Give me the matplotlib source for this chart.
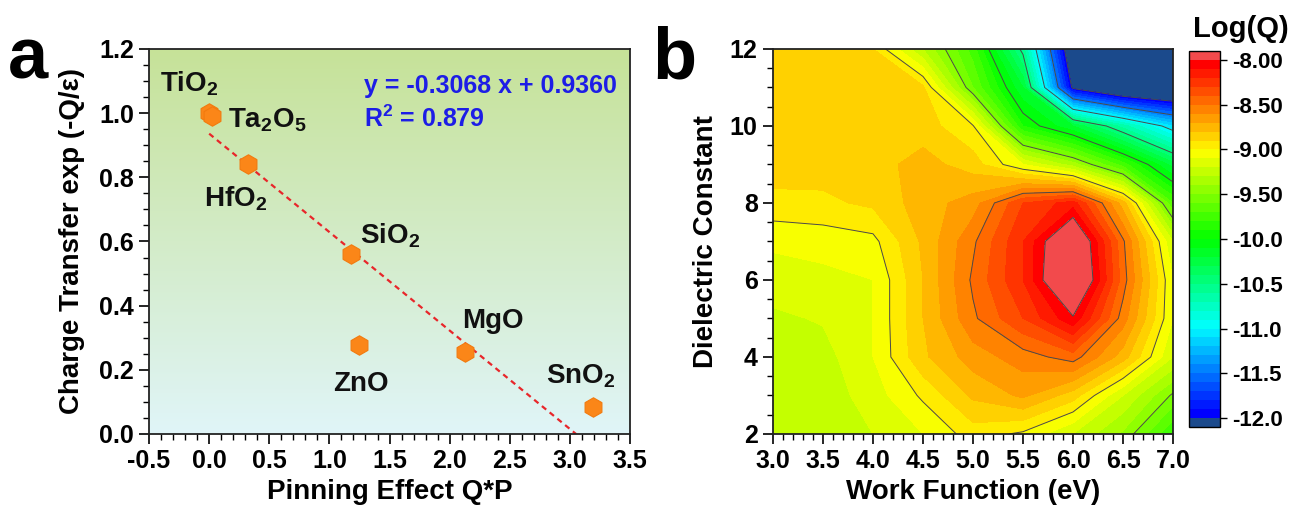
import numpy as np
import matplotlib.pyplot as plt
import matplotlib.colors as mcolors
from matplotlib.ticker import MultipleLocator, FormatStrFormatter

plt.rcParams['font.family'] = ['Liberation Sans', 'DejaVu Sans']
plt.rcParams['font.weight'] = 'bold'
plt.rcParams['axes.labelweight'] = 'bold'
plt.rcParams['mathtext.fontset'] = 'custom'
plt.rcParams['mathtext.rm'] = 'Liberation Sans:bold'
plt.rcParams['mathtext.it'] = 'Liberation Sans:bold'
plt.rcParams['mathtext.bf'] = 'Liberation Sans:bold'
plt.rcParams['mathtext.default'] = 'rm'

# ---- panel a: charge transfer vs pinning effect ----
oxide_labels = [r'TiO$_2$', r'Ta$_2$O$_5$', r'HfO$_2$', r'SiO$_2$', 'ZnO', 'MgO', r'SnO$_2$']
pinning = [0.0, 0.02, 0.32, 1.18, 1.25, 2.13, 3.19]
transfer = [1.00, 0.99, 0.84, 0.561, 0.276, 0.255, 0.083]
fit_slope = -0.3068
fit_intercept = 0.9360
fit_r2 = 0.879

# where each oxide name sits (data coords, left/baseline)
label_pos = [(-0.41, 1.068), (0.16, 0.954), (-0.04, 0.71), (1.255, 0.595),
             (1.03, 0.133), (2.10, 0.33), (2.80, 0.156)]

# ---- panel b: Log(Q) map ----
work_function = [3.0, 3.5, 4.0, 4.5, 5.0, 5.5, 6.0, 6.5, 7.0]
dielectric = [2, 3, 4, 5, 6, 7, 8, 9, 10, 11, 12]
log_q = [
    [-9.28, -9.27, -9.20, -9.10, -8.95, -9.02, -9.20, -9.42, -9.80],
    [-9.28, -9.26, -9.15, -8.98, -8.78, -8.68, -8.85, -9.20, -9.52],
    [-9.27, -9.24, -9.10, -8.82, -8.65, -8.55, -8.45, -8.75, -9.20],
    [-9.22, -9.19, -9.10, -8.80, -8.52, -8.30, -8.02, -8.55, -9.10],
    [-9.15, -9.13, -9.10, -8.80, -8.48, -8.20, -7.70, -8.45, -9.10],
    [-9.08, -9.06, -9.03, -8.78, -8.52, -8.20, -7.75, -8.48, -9.20],
    [-8.93, -8.92, -8.88, -8.75, -8.65, -8.30, -8.15, -8.75, -9.70],
    [-8.85, -8.86, -8.84, -8.76, -8.85, -9.10, -9.35, -9.75, -10.25],
    [-8.83, -8.83, -8.83, -8.85, -8.99, -9.90, -10.20, -10.65, -11.10],
    [-8.83, -8.83, -8.85, -8.88, -9.60, -10.20, -12.05, -12.40, -12.50],
    [-8.83, -8.83, -8.90, -9.30, -9.75, -10.55, -12.30, -12.50, -12.60],
]
cbar_ticks = [-8.0, -8.5, -9.0, -9.5, -10.0, -10.5, -11.0, -11.5, -12.0]
cbar_labels = ['-8.00', '-8.50', '-9.00', '-9.50', '-10.0', '-10.5', '-11.0', '-11.5', '-12.0']

fig = plt.figure(figsize=(12.95, 5.08), dpi=100)
ax1 = fig.add_axes([0.1151, 0.1457, 0.3714, 0.7579])
ax2 = fig.add_axes([0.5969, 0.1457, 0.3089, 0.7579])
cax = fig.add_axes([0.9181, 0.1594, 0.0239, 0.7402])

# gradient background for panel a
bg = mcolors.LinearSegmentedColormap.from_list('bg', ['#c6e298', '#e0f5f8'])
ax1.imshow(np.linspace(0, 1, 256)[:, None], cmap=bg, extent=[-0.5, 3.5, 0, 1.2],
           aspect='auto', origin='upper', zorder=0)

fit_x = np.array([0.0, -fit_intercept / fit_slope])
ax1.plot(fit_x, fit_slope * fit_x + fit_intercept, color='#e8262a', lw=1.6,
         ls=(0, (2.5, 2)), zorder=2)
ax1.plot(pinning, transfer, 'h', color='#fb8618', markersize=14, mec='#f27a0e',
         mew=0.8, zorder=3)

for txt, (lx, ly) in zip(oxide_labels, label_pos):
    ax1.text(lx, ly, txt, fontsize=20, ha='left', va='baseline', color='#111111')

ax1.text(1.29, 1.063, 'y = %.4f x + %.4f' % (fit_slope, fit_intercept),
         fontsize=18, color='#1d1de6', ha='left', va='baseline')
ax1.text(1.29, 0.957, r'R$^2$ = %.3f' % fit_r2, fontsize=18, color='#1d1de6',
         ha='left', va='baseline')

ax1.set_xlim(-0.5, 3.5)
ax1.set_ylim(0, 1.2)
ax1.xaxis.set_major_locator(MultipleLocator(0.5))
ax1.xaxis.set_minor_locator(MultipleLocator(0.1))
ax1.yaxis.set_major_locator(MultipleLocator(0.2))
ax1.yaxis.set_minor_locator(MultipleLocator(0.05))
ax1.xaxis.set_major_formatter(FormatStrFormatter('%.1f'))
ax1.yaxis.set_major_formatter(FormatStrFormatter('%.1f'))
ax1.set_xlabel('Pinning Effect Q*P', fontsize=20, labelpad=4)
ax1.set_ylabel('Charge Transfer exp (-Q/ε)', fontsize=20, labelpad=10)

# contour map
levels = [-13.5] + list(np.round(np.linspace(-12.0, -8.0, 41), 2)) + [-7.0]
band_colors = ['#1b4a8c']
for i in range(40):
    hue = (240.0 * (1 - i / 39.0)) / 360.0
    band_colors.append(mcolors.hsv_to_rgb([hue, 1.0, 1.0]))
band_colors.append('#f24a4c')

X, Y = np.meshgrid(work_function, dielectric)
Z = np.array(log_q)
cf = ax2.contourf(X, Y, Z, levels=levels, colors=band_colors)
ax2.contour(X, Y, Z, levels=np.linspace(-12.0, -8.0, 9), colors='#4a4a4a',
            linewidths=0.7, linestyles='solid')

ax2.set_xlim(3.0, 7.0)
ax2.set_ylim(2, 12)
ax2.xaxis.set_major_locator(MultipleLocator(0.5))
ax2.xaxis.set_minor_locator(MultipleLocator(0.1))
ax2.yaxis.set_major_locator(MultipleLocator(2))
ax2.yaxis.set_minor_locator(MultipleLocator(0.5))
ax2.xaxis.set_major_formatter(FormatStrFormatter('%.1f'))
ax2.set_xlabel('Work Function (eV)', fontsize=20, labelpad=4)
ax2.set_ylabel('Dielectric Constant', fontsize=20, labelpad=8)

for ax in (ax1, ax2):
    ax.tick_params(which='major', direction='out', length=7, width=1.2,
                   labelsize=18, pad=4)
    ax.tick_params(which='minor', direction='out', length=4, width=1.0)
    for sp in ax.spines.values():
        sp.set_linewidth(1.3)
        sp.set_color('#222222')

cb = fig.colorbar(cf, cax=cax, spacing='uniform', ticks=cbar_ticks)
cb.ax.set_yticklabels(cbar_labels)
cb.ax.minorticks_off()
cb.ax.tick_params(direction='out', length=5, width=1.0, labelsize=16, pad=4)
cb.outline.set_linewidth(1.0)
fig.text(0.958, 0.927, 'Log(Q)', fontsize=21, ha='center', va='baseline')

fig.text(0.006, 0.846, 'a', fontsize=52, ha='left', va='baseline')
fig.text(0.504, 0.846, 'b', fontsize=52, ha='left', va='baseline')

fig.savefig('out.png', dpi=100)
